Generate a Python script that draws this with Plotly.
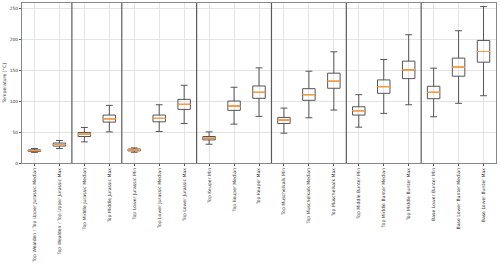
import plotly.graph_objects as go

labels = [
    "Top Wealden / Top Upper Jurassic Median", "Top Wealden / Top Upper Jurassic Max",
    "Top Middle Jurassic Median", "Top Middle Jurassic Max",
    "Top Lower Jurassic Min", "Top Lower Jurassic Median", "Top Lower Jurassic Max",
    "Top Keuper Min", "Top Keuper Median", "Top Keuper Max",
    "Top Muschelkalk Min", "Top Muschelkalk Median", "Top Muschelkalk Max",
    "Top Middle Bunter Min", "Top Middle Bunter Median", "Top Middle Bunter Max",
    "Base Lower Bunter Min", "Base Lower Bunter Median", "Base Lower Bunter Max",
]
group_sizes = [2, 2, 3, 3, 3, 3, 3]

lower = [17.2, 23.4, 34.2, 50.4, 17.4, 51.0, 64.0, 30.4, 62.9, 75.4, 48.3, 73.2, 85.7, 58.0, 80.3, 94.3, 74.8, 96.6, 108.9]
q1 =    [18.7, 27.4, 42.9, 66.2, 19.6, 66.7, 86.8, 37.4, 85.2, 104.7, 64.0, 101.5, 121.0, 77.6, 112.8, 136.6, 104.1, 140.5, 163.2]
median = [20.0, 29.9, 46.7, 71.6, 21.1, 72.2, 94.9, 40.2, 92.2, 114.4, 69.4, 110.6, 132.3, 84.6, 123.6, 150.7, 114.4, 155.1, 180.5]
q3 =    [21.3, 32.3, 49.4, 77.6, 22.6, 77.6, 103.0, 42.9, 100.3, 124.7, 73.8, 120.3, 145.4, 91.0, 134.5, 164.9, 124.2, 169.8, 198.4]
upper = [23.4, 36.4, 57.5, 93.3, 24.4, 94.3, 125.8, 50.4, 122.6, 154.0, 88.9, 148.6, 180.0, 110.6, 167.5, 207.6, 153.5, 214.1, 253.2]

positions = list(range(1, len(labels) + 1))

fig = go.Figure()
fig.add_trace(go.Box(
    x=positions, q1=q1, median=median, q3=q3, lowerfence=lower, upperfence=upper,
    width=0.5, whiskerwidth=0.55, fillcolor="rgba(255,255,255,0)",
    line=dict(color="#555555", width=1), boxpoints=False, hoverinfo="skip",
))
fig.add_trace(go.Box(
    x=positions, q1=median, median=median, q3=median, lowerfence=median, upperfence=median,
    width=0.5, whiskerwidth=0.0, fillcolor="rgba(255,255,255,0)",
    line=dict(color="#ff9a40", width=1), boxpoints=False, hoverinfo="skip",
))

# group separators
b = 0
for g in group_sizes[:-1]:
    b += g
    fig.add_shape(type="line", xref="x", yref="paper", x0=b + 0.5, x1=b + 0.5, y0=0, y1=1,
                  line=dict(color="#5a5a5a", width=1.2), layer="above")

fig.update_layout(
    width=500, height=264,
    margin=dict(l=22, r=4, t=3, b=101),
    paper_bgcolor="white", plot_bgcolor="white",
    showlegend=False, boxmode="overlay",
    font=dict(family="DejaVu Sans", size=4.6, color="#333"),
)
fig.update_xaxes(
    range=[0.5, len(labels) + 0.5], tickmode="array", tickvals=positions, ticktext=labels,
    tickangle=-90, tickfont=dict(size=4.6), showgrid=True, gridcolor="#e3e3e3", gridwidth=1,
    showline=True, linecolor="#888", linewidth=1.2, mirror=True,
    ticks="outside", ticklen=2, tickcolor="#555", zeroline=False, automargin=False,
)
fig.update_yaxes(
    range=[0, 259], tickvals=[0, 50, 100, 150, 200, 250], tickfont=dict(size=4.4),
    showgrid=True, gridcolor="#e3e3e3", gridwidth=1,
    showline=True, linecolor="#888", linewidth=1.2, mirror=True,
    ticks="outside", ticklen=2, tickcolor="#555", zeroline=False, automargin=False,
    title=dict(text="Temperature [°C]", font=dict(size=4.6), standoff=3),
)

fig.write_html("out.html", config={"displayModeBar": False})

# remove default page margin so the 500x264 figure fills the window exactly
with open("out.html", "r", encoding="utf-8") as f:
    html = f.read()
html = html.replace("<head>", "<head><style>html,body{margin:0;padding:0;overflow:hidden;}</style>", 1)
with open("out.html", "w", encoding="utf-8") as f:
    f.write(html)
